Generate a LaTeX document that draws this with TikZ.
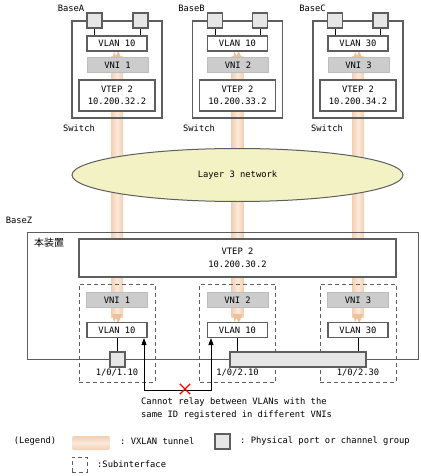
\documentclass[tikz,border=0pt]{standalone}
\usepackage{fontspec}
\setmonofont{DejaVu Sans Mono}
\newfontfamily\cjk{Noto Sans CJK JP}
\usetikzlibrary{shapes.geometric,shapes.misc,arrows.meta}

\definecolor{bordc}{HTML}{5E5E5E}
\definecolor{vnigray}{HTML}{CCCCCC}
\definecolor{vniedge}{HTML}{BDBDBD}
\definecolor{portgray}{HTML}{E6E6E6}
\definecolor{netfill}{HTML}{F2F2C4}
\definecolor{tunfill}{HTML}{FBEADB}
\definecolor{tunedge}{HTML}{F2CFB2}
\definecolor{tundark}{HTML}{EDC19C}

\tikzset{
  lbl/.style={inner sep=0pt},
  swbox/.style={draw=bordc, line width=1.1pt, inner sep=0pt},
  vlanbox/.style={draw=bordc, line width=1.1pt, fill=white, minimum width=60, minimum height=15, inner sep=0pt},
  vnibox/.style={draw=vniedge, line width=1pt, fill=vnigray, minimum width=61, minimum height=15, inner sep=0pt},
  vtepbox/.style={draw=bordc, line width=1.1pt, fill=white, minimum width=76, minimum height=31, align=center, inner sep=0pt},
  portbox/.style={draw=bordc, line width=1.1pt, fill=portgray, minimum width=15, minimum height=15, inner sep=0pt},
  subif/.style={draw=bordc, line width=0.9pt, dash pattern=on 4pt off 3pt, minimum width=76, minimum height=98, inner sep=0pt},
  conn/.style={draw=black, line width=0.9pt},
}

% one VXLAN tunnel, #1 = x of its axis
\newcommand\vxtunnel[1]{%
  \fill[left color=tunedge, right color=tunedge, middle color=tunfill] (#1-6,57) rectangle (#1+6,317);
  \fill[tundark] (#1-5,60) -- (#1-3,52) -- (#1-1,56) -- (#1+1,51) -- (#1+3,55) -- (#1+5,60) -- cycle;
  \fill[tundark] (#1-5,314) -- (#1-3,322) -- (#1-1,318) -- (#1+1,323) -- (#1+3,319) -- (#1+5,314) -- cycle;
}

\begin{document}
\begin{tikzpicture}[x=1pt, y=-1pt, font=\ttfamily\fontsize{8.8}{12.5}\selectfont]
        \useasboundingbox (0,0) rectangle (420,476);

        % tunnels go behind everything
        \vxtunnel{117}
        \vxtunnel{237.5}
        \vxtunnel{358}

        \node[ellipse, draw=bordc, line width=1pt, fill=netfill, minimum width=331, minimum height=53, inner sep=0pt] (net) at (237.5,175) {Layer 3 network};

        % BaseA
        \node[lbl] (baseA) at (71,8) {BaseA};
        \node[swbox, minimum width=90, minimum height=97] (swA) at (117,69.5) {};
        \node[vlanbox] (vlanA) at (117,43.5) {VLAN 10};
        \node[vnibox] (vniA) at (117.5,65.5) {VNI 1};
        \node[vtepbox] (vtepA) at (117,95.5) {VTEP 2\\10.200.32.2};
        \node[portbox] (pA1) at (94.5,20.5) {};
        \node[portbox] (pA2) at (140.5,20.5) {};
        \draw[conn] (pA1) -- (pA1 |- vlanA.north);
        \draw[conn] (pA2) -- (pA2 |- vlanA.north);
        \node[lbl] (swlabA) at (79,128) {Switch};

        % BaseB
        \node[lbl] (baseB) at (191.5,8) {BaseB};
        \node[swbox, minimum width=90, minimum height=97] (swB) at (237.5,69.5) {};
        \node[vlanbox] (vlanB) at (237.5,43.5) {VLAN 10};
        \node[vnibox] (vniB) at (238,65.5) {VNI 2};
        \node[vtepbox] (vtepB) at (237.5,95.5) {VTEP 2\\10.200.33.2};
        \node[portbox] (pB1) at (215,20.5) {};
        \node[portbox] (pB2) at (260,20.5) {};
        \draw[conn] (pB1) -- (pB1 |- vlanB.north);
        \draw[conn] (pB2) -- (pB2 |- vlanB.north);
        \node[lbl] (swlabB) at (199,128) {Switch};

        % BaseC
        \node[lbl] (baseC) at (312.5,8) {BaseC};
        \node[swbox, minimum width=90, minimum height=97] (swC) at (358,69.5) {};
        \node[vlanbox] (vlanC) at (358,43.5) {VLAN 30};
        \node[vnibox] (vniC) at (358.5,65.5) {VNI 3};
        \node[vtepbox] (vtepC) at (358,95.5) {VTEP 2\\10.200.34.2};
        \node[portbox] (pC1) at (335,20.5) {};
        \node[portbox] (pC2) at (380.5,20.5) {};
        \draw[conn] (pC1) -- (pC1 |- vlanC.north);
        \draw[conn] (pC2) -- (pC2 |- vlanC.north);
        \node[lbl] (swlabC) at (327,128) {Switch};

        % BaseZ
        \node[lbl] (baseZ) at (19,220) {BaseZ};
        \node[draw=bordc, line width=1pt, minimum width=391, minimum height=127, inner sep=0pt] (devZ) at (222.5,295.5) {};
        \node[lbl] (selfZ) at (49,243) {\cjk\fontsize{10}{12}\selectfont 本装置};
        \node[vtepbox, minimum width=317, minimum height=38] (vtepZ) at (237.5,258) {VTEP 2\\10.200.30.2};

        \node[subif] (subZ1) at (117,333) {};
        \node[subif] (subZ2) at (237.5,333) {};
        \node[subif] (subZ3) at (358,333) {};

        \node[vnibox] (vniZ1) at (117,300) {VNI 1};
        \node[vnibox] (vniZ2) at (237.5,300) {VNI 2};
        \node[vnibox] (vniZ3) at (358,300) {VNI 3};
        \node[vlanbox] (vlanZ1) at (117,330) {VLAN 10};
        \node[vlanbox] (vlanZ2) at (237.5,330) {VLAN 10};
        \node[vlanbox] (vlanZ3) at (358,330) {VLAN 30};

        \node[portbox] (pZ1) at (117.5,359.5) {};
        \node[portbox, minimum width=136] (chZ) at (298,359.5) {};
        \draw[conn] (vlanZ1.south) -- (vlanZ1.south |- pZ1.north);
        \draw[conn] (vlanZ2.south) -- (vlanZ2.south |- chZ.north);
        \draw[conn] (vlanZ3.south) -- (vlanZ3.south |- chZ.north);

        \node[lbl] (labZ1) at (117,373) {1/0/1.10};
        \node[lbl] (labZ2) at (237.5,373) {1/0/2.10};
        \node[lbl] (labZ3) at (358,373) {1/0/2.30};

        % no relay between the two VLAN 10
        \coordinate (relayL) at (144,390);
        \coordinate (relayR) at (211,390);
        \draw[conn, {Triangle[width=5pt,length=7pt]}-{Triangle[width=5pt,length=7pt]}] (relayL |- vlanZ1.south) -- (relayL) -- (relayR) -- (relayR |- vlanZ2.south);
        \node[draw=red, cross out, line width=1.3pt, minimum size=9, inner sep=0pt] (norelay) at (185,389) {};
        \node[lbl, anchor=north west, align=left] (relaytxt) at (141,398) {Cannot relay between VLANs with the\\same ID registered in different VNIs};

        % legend
        \node[lbl] (legend) at (35,441) {(Legend)};
        \node[rounded corners=2pt, top color=tunedge, bottom color=tunedge, middle color=tunfill, minimum width=38, minimum height=14, inner sep=0pt] (legtun) at (91,443) {};
        \node[lbl, anchor=west] (legtuntxt) at (120,441) {: VXLAN tunnel};
        \node[portbox] (legport) at (222.5,441.5) {};
        \node[lbl, anchor=west] (legporttxt) at (240,441) {: Physical port or channel group};
        \node[subif, minimum width=15, minimum height=15] (legsub) at (79.5,464.5) {};
        \node[lbl, anchor=west] (legsubtxt) at (97,464) {:Subinterface};

    \end{tikzpicture}
\end{document}
